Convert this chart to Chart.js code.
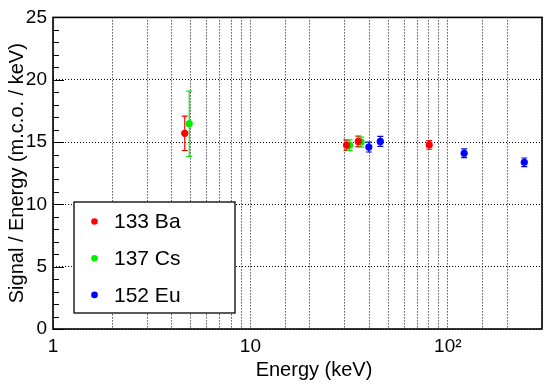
<!DOCTYPE html>
<html><head><meta charset="utf-8">
<script src="https://cdn.jsdelivr.net/npm/chart.js@4/dist/chart.umd.min.js"></script>
<style>html,body{margin:0;padding:0;background:#fff}</style>
</head><body>
<canvas id="c" width="550" height="384"></canvas>
<script>
const seriesNames = ['133 Ba', '137 Cs', '152 Eu'];
const seriesColors = ['#ff0000', '#00ee00', '#0000ff'];
const baEnergy = [4.65, 30.7, 35.2, 80.5];
const baSignal = [15.7, 14.75, 15.05, 14.77];
const baError  = [1.38, 0.42, 0.42, 0.35];
const csEnergy = [4.9, 31.8, 36.4];
const csSignal = [16.47, 14.75, 15.0];
const csError  = [2.62, 0.42, 0.40];
const euEnergy = [39.8, 45.5, 121, 244];
const euSignal = [14.6, 15.05, 14.1, 13.37];
const euError  = [0.40, 0.40, 0.35, 0.35];
const xTickValues = [1, 10, 100];
const xTickLabels = ['1', '10', '10²'];
const xAxisTitle = 'Energy (keV)';
const yAxisTitle = 'Signal / Energy (m.c.o. / keV)';

const FONT = "'Liberation Sans', Arial, sans-serif";

function makeSet(i, xs, ys, errs) {
  return {
    label: seriesNames[i],
    data: xs.map((x, k) => ({x: x, y: ys[k]})),
    errors: errs,
    backgroundColor: seriesColors[i],
    borderColor: seriesColors[i],
    pointRadius: 3.6,
    pointBorderWidth: 0,
    showLine: false
  };
}

const errorBars = {
  id: 'errorBars',
  beforeDatasetsDraw(chart) {
    const ctx = chart.ctx, xs = chart.scales.x, ys = chart.scales.y;
    ctx.save();
    chart.data.datasets.forEach(ds => {
      ctx.strokeStyle = ds.borderColor;
      ctx.lineWidth = 1.2;
      ds.data.forEach((p, k) => {
        const px = xs.getPixelForValue(p.x);
        const t = ys.getPixelForValue(p.y + ds.errors[k]);
        const b = ys.getPixelForValue(p.y - ds.errors[k]);
        ctx.beginPath();
        ctx.moveTo(px, t); ctx.lineTo(px, b);
        ctx.moveTo(px - 3, t); ctx.lineTo(px + 3, t);
        ctx.moveTo(px - 3, b); ctx.lineTo(px + 3, b);
        ctx.stroke();
      });
    });
    ctx.restore();
  }
};

const frameAndLegend = {
  id: 'frameAndLegend',
  afterDraw(chart) {
    const ctx = chart.ctx, a = chart.chartArea, ys = chart.scales.y;
    ctx.save();
    ctx.strokeStyle = '#000';
    ctx.lineWidth = 1.6;
    ctx.strokeRect(a.left, a.top, a.right - a.left, a.bottom - a.top);
    ctx.lineWidth = 1;
    for (let v = ys.min; v <= ys.max; v += 1) {
      const py = Math.round(ys.getPixelForValue(v)) + 0.5;
      const len = (v % 5 === 0) ? 11 : 6;
      ctx.beginPath();
      ctx.moveTo(a.left, py); ctx.lineTo(a.left + len, py);
      ctx.stroke();
    }
    ctx.fillStyle = '#000';
    ctx.font = '20px ' + FONT;
    ctx.textAlign = 'center';
    ctx.textBaseline = 'middle';
    ctx.fillText(xAxisTitle, 314, 370);
    const lx = 74, ly = 202, lw = 161, lh = 111;
    ctx.fillStyle = '#fff';
    ctx.fillRect(lx, ly, lw, lh);
    ctx.strokeStyle = '#000';
    ctx.lineWidth = 1.3;
    ctx.strokeRect(lx, ly, lw, lh);
    ctx.font = '21px ' + FONT;
    ctx.textAlign = 'left';
    chart.data.datasets.forEach((ds, i) => {
      const ry = 221.5 + i * 36.7;
      ctx.fillStyle = ds.backgroundColor;
      ctx.beginPath();
      ctx.arc(94.5, ry, 3.3, 0, Math.PI * 2);
      ctx.fill();
      ctx.fillStyle = '#000';
      ctx.fillText(ds.label, 114, ry + 1);
    });
    ctx.restore();
  }
};

new Chart(document.getElementById('c'), {
  type: 'scatter',
  data: {
    datasets: [
      makeSet(0, baEnergy, baSignal, baError),
      makeSet(1, csEnergy, csSignal, csError),
      makeSet(2, euEnergy, euSignal, euError)
    ]
  },
  options: {
    responsive: false,
    devicePixelRatio: 1,
    animation: false,
    layout: {padding: {top: 13, right: 8, bottom: 0, left: 0}},
    plugins: {legend: {display: false}, tooltip: {enabled: false}},
    scales: {
      x: {
        type: 'logarithmic',
        min: 1, max: 300,
        afterFit(s) { s.height = 55; },
        grid: {color: '#000', lineWidth: 1, drawTicks: false},
        border: {display: false, dash: [1, 2]},
        ticks: {
          autoSkip: false, maxRotation: 0, padding: 6,
          color: '#000', font: {family: FONT, size: 19},
          callback(v) {
            const idx = xTickValues.findIndex(t => Math.abs(Math.log10(t) - Math.log10(v)) < 1e-6);
            return idx >= 0 ? xTickLabels[idx] : '';
          }
        }
      },
      y: {
        min: 0, max: 25,
        afterFit(s) { s.width = 53; },
        grid: {color: '#000', lineWidth: 1, drawTicks: false},
        border: {display: false, dash: [1, 2]},
        ticks: {stepSize: 5, padding: 6, color: '#000', font: {family: FONT, size: 19}},
        title: {display: true, text: yAxisTitle, color: '#000', font: {family: FONT, size: 20}, padding: {top: 5, bottom: 0}}
      }
    }
  },
  plugins: [errorBars, frameAndLegend]
});
</script>
</body></html>
